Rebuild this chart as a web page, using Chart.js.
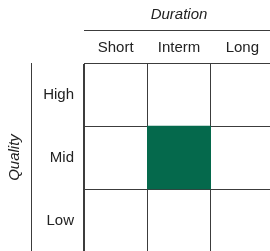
<!DOCTYPE html>
<html>
<head>
<meta charset="utf-8">
<script src="https://cdn.jsdelivr.net/npm/chart.js@4"></script>
<style>
  html, body { margin: 0; padding: 0; background: #fff; overflow: hidden; }
  canvas { display: block; }
</style>
</head>
<body>
<canvas id="gridChart" width="274" height="252"></canvas>
<script>
// categories
const durations = ['Short', 'Interm', 'Long'];
const qualities = ['High', 'Mid', 'Low'];
// 1 = filled cell, rows follow qualities, columns follow durations
const marked = [
  [0, 0, 0],
  [0, 1, 0],
  [0, 0, 0]
];
const rowUnits = [1, 1, 1]; // every row is one unit tall

const fillColor = '#05694c';
const lineColor = '#3c3c3c';
const font = { family: "'Liberation Sans', Arial, sans-serif", size: 15 };

// stacked bars go bottom -> top, so build rows from Low up to High
const datasets = qualities.map((q, i) => ({
  label: q,
  data: rowUnits.map(u => u),
  backgroundColor: marked[i].map(m => m ? fillColor : 'rgba(0,0,0,0)'),
  borderWidth: 0,
  barPercentage: 1,
  categoryPercentage: 1,
  yAxisID: 'yv'
})).reverse();

// the small lines that sit under/beside the axis titles
const titleLines = {
  id: 'titleLines',
  afterDraw(chart) {
    const { ctx, chartArea } = chart;
    const xs = chart.scales.x, ys = chart.scales.y;
    ctx.save();
    ctx.strokeStyle = lineColor;
    ctx.lineWidth = 1;
    ctx.beginPath();
    const ly = Math.round(xs.top + 30) + 0.5;
    ctx.moveTo(chartArea.left, ly);
    ctx.lineTo(chartArea.right, ly);
    const lx = Math.round(ys.left + 31) + 0.5;
    ctx.moveTo(lx, chartArea.top);
    ctx.lineTo(lx, chartArea.bottom);
    ctx.stroke();
    ctx.restore();
  }
};

const ctx = document.getElementById('gridChart').getContext('2d');
const gridChart = new Chart(ctx, {
  type: 'bar',
  data: { labels: durations, datasets: datasets },
  options: {
    responsive: false,
    animation: false,
    layout: { padding: 0 },
    plugins: { legend: { display: false }, tooltip: { enabled: false } },
    scales: {
      x: {
        position: 'top',
        stacked: true,
        offset: true,
        z: 1,
        grid: { offset: true, color: lineColor, drawTicks: false, lineWidth: 1 },
        border: { color: lineColor },
        ticks: { color: '#222', font: font, padding: 6 },
        title: { display: true, text: 'Duration', color: '#222',
                 font: Object.assign({}, font, { style: 'italic' }), padding: { top: 6, bottom: 0 } },
        afterFit(scale) {
          scale.height = 63;
          scale.paddingLeft = 0;
          scale.paddingRight = 0;
        }
      },
      y: {
        type: 'category',
        labels: qualities,
        position: 'left',
        offset: true,
        z: 1,
        grid: { offset: true, color: lineColor, drawTicks: false, lineWidth: 1 },
        border: { color: lineColor },
        ticks: { color: '#222', font: font, padding: 10 },
        title: { display: true, text: 'Quality', color: '#222',
                 font: Object.assign({}, font, { style: 'italic' }), padding: { top: 6, bottom: 0 } },
        afterFit(scale) {
          scale.width = 84;
          scale.paddingTop = 0;
          scale.paddingBottom = 0;
        }
      },
      yv: {
        display: false,
        stacked: true,
        min: 0,
        max: 3
      }
    }
  },
  plugins: [titleLines]
});
</script>
</body>
</html>
